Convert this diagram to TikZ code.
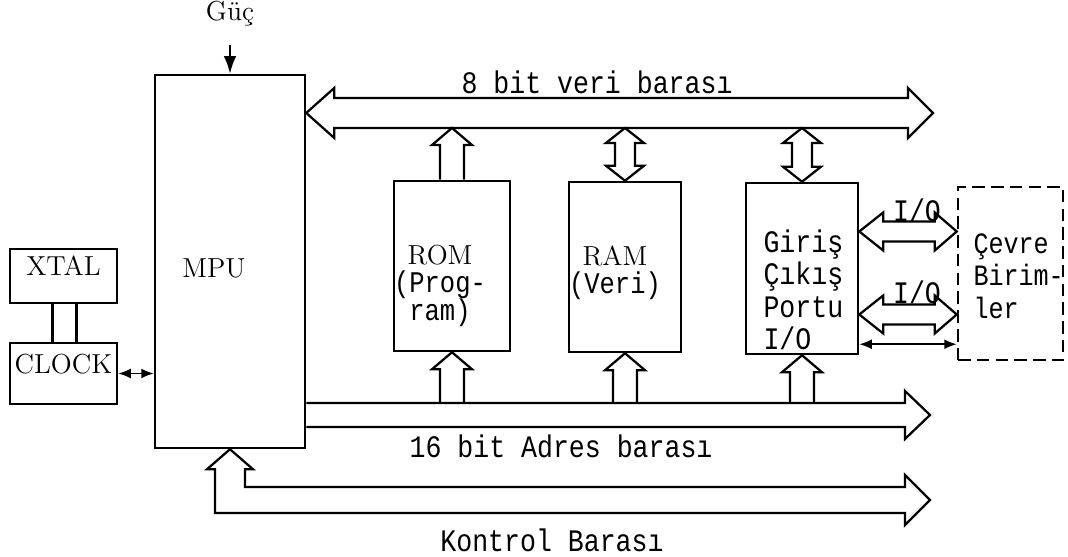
\documentclass[tikz,border=0pt]{standalone}
\usepackage{fontspec}
\newfontfamily\typew{Liberation Mono}[FakeStretch=0.85]
\usetikzlibrary{calc,fit,arrows.meta}

\begin{document}
\begin{tikzpicture}[
  x=0.4pt, y=-0.4pt,
  every node/.style={font=\fontsize{11}{12}\selectfont},
  box/.style={draw, line width=1pt, inner sep=0pt},
  tw/.style={font=\typew\fontsize{12.5}{13}\selectfont},
  tight/.style={font=\typew\fontsize{12}{11.3}\selectfont\lineskiplimit-20pt\relax},
  bus/.style={line width=0.9pt, line join=miter},
  sig/.style={line width=0.7pt, {Latex[length=5pt,width=4pt]}-{Latex[length=5pt,width=4pt]}},
  >=Latex
]
\useasboundingbox (0,0) rectangle (1068,557);

% blocks
\node[box, fit={(155,75) (305,448)}] (mpu) {};
\node[box, fit={(10,249) (117,303)}] (xtal) {XTAL};
\node[box, fit={(10,343) (117,404)}] (clock) {CLOCK};
\node[box, fit={(394,181) (510,351)}] (rom) {};
\node[box, fit={(569,182) (681,352)}] (ram) {};
\node[box, fit={(746,183) (858,354)}] (io) {};
\node[box, dash pattern=on 5pt off 2.5pt, fit={(958,187) (1063,360)}] (cevre) {};

% texts
\node (guc) at (230,14) {Güç};
\node (mputxt) at (214,268) {MPU};
\node[tight, align=center] (romtxt) at (440,286)
  {{\rmfamily\fontsize{11}{11.3}\selectfont ROM}\\(Prog-\\ram)};
\node[tight, align=center] (ramtxt) at (615,273)
  {{\rmfamily\fontsize{11}{11.3}\selectfont RAM}\\(Veri)};
\node[tw, align=left, anchor=west, inner sep=0pt] (iotxt) at (763,290) {Giriş\\Çıkış\\Portu\\I/O};
\node[tw, align=left, anchor=west, inner sep=0pt, font=\typew\fontsize{11.8}{13}\selectfont] (cevretxt)
  at (973,276) {Çevre\\Birim-\\ler};
\node[tw] (datalbl) at (597,82) {8 bit veri barası};
\node[tw] (adrlbl) at (561,446) {16 bit Adres barası};
\node[tw] (ctrllbl) at (552,540) {Kontrol Barası};
\node[tw] (iolblA) at (917,210) {I/O};
\node[tw] (iolblB) at (917,292) {I/O};

\coordinate (dtip) at (933,113);
\coordinate (atip) at (930,415);
\coordinate (ctip) at (930,500);
\coordinate (ioA) at ($(io.east)+(0,-37)$);
\coordinate (ioB) at ($(io.east)+(0,46)$);
\coordinate (ioC) at ($(io.south east)+(0,-11)$);

% power, clock
\draw[-{Latex[length=7pt,width=5pt]}, line width=0.8pt, shorten <=4pt] (guc) -- (mpu.north);
\draw[line width=1pt] ($(xtal.south)+(-11,0)$) -- ($(clock.north)+(-11,0)$);
\draw[line width=1pt] ($(xtal.south)+(13,0)$) -- ($(clock.north)+(13,0)$);
\draw[sig] (clock.east) -- (clock.east -| mpu.west);

% 8 bit data bus
\draw[bus] (mpu.east |- dtip) -- ++(28,-25) -- ++(0,10) -- ($(dtip)+(-25,-15)$) -- ++(0,-10)
  -- (dtip) -- ++(-25,25) -- ++(0,-10) -- ($(mpu.east |- dtip)+(28,15)$) -- ++(0,10) -- cycle;
\draw[bus] ($(rom.north)+(-12,0)$) -- ($(rom.north |- dtip)+(-12,32)$) -- ++(-8,0)
  -- ($(rom.north |- dtip)+(0,15)$) -- ++(20,17) -- ++(-8,0) -- ($(rom.north)+(12,0)$);
\draw[bus] (ram.north) -- ++(-19,-15) -- ++(9,0) -- ($(ram.north |- dtip)+(-10,30)$) -- ++(-9,0)
  -- ($(ram.north |- dtip)+(0,15)$) -- ++(19,15) -- ++(-9,0) -- ($(ram.north)+(10,-15)$) -- ++(9,0) -- cycle;
\draw[bus] (io.north) -- ++(-19,-15) -- ++(9,0) -- ($(io.north |- dtip)+(-10,30)$) -- ++(-9,0)
  -- ($(io.north |- dtip)+(0,15)$) -- ++(19,15) -- ++(-9,0) -- ($(io.north)+(10,-15)$) -- ++(9,0) -- cycle;

% 16 bit address bus
\draw[bus] ($(mpu.east |- atip)+(0,-12)$) -- ($(atip)+(-25,-12)$) -- ++(0,-12) -- (atip)
  -- ++(-25,24) -- ++(0,-12) -- ($(mpu.east |- atip)+(0,12)$);
\draw[bus] ($(rom.south |- atip)+(-12,-12)$) -- ($(rom.south)+(-12,17)$) -- ++(-8,0) -- (rom.south)
  -- ++(20,17) -- ++(-8,0) -- ($(rom.south |- atip)+(12,-12)$);
\draw[bus] ($(ram.south |- atip)+(-12,-12)$) -- ($(ram.south)+(-12,17)$) -- ++(-8,0) -- (ram.south)
  -- ++(20,17) -- ++(-8,0) -- ($(ram.south |- atip)+(12,-12)$);
\draw[bus] ($(io.south |- atip)+(-12,-12)$) -- ($(io.south)+(-12,17)$) -- ++(-8,0) -- (io.south)
  -- ++(20,17) -- ++(-8,0) -- ($(io.south |- atip)+(12,-12)$);

% control bus
\draw[bus] (mpu.south) -- ++(23,20) -- ++(-8,0) -- ($(mpu.south |- ctip)+(15,-13)$)
  -- ($(ctip)+(-25,-13)$) -- ++(0,-12) -- (ctip) -- ++(-25,25) -- ++(0,-12)
  -- ($(mpu.south |- ctip)+(-15,13)$) -- ($(mpu.south)+(-15,20)$) -- ++(-8,0) -- cycle;

% I/O links
\draw[bus] (ioA) -- ++(24,-19) -- ++(0,9) -- ($(cevre.west |- ioA)+(-22,-10)$) -- ++(0,-9)
  -- (cevre.west |- ioA) -- ++(-22,19) -- ++(0,-9) -- ($(ioA)+(24,10)$) -- ++(0,9) -- cycle;
\draw[bus] (ioB) -- ++(24,-19) -- ++(0,9) -- ($(cevre.west |- ioB)+(-22,-10)$) -- ++(0,-9)
  -- (cevre.west |- ioB) -- ++(-22,19) -- ++(0,-9) -- ($(ioB)+(24,10)$) -- ++(0,9) -- cycle;
\draw[sig] (ioC) -- (cevre.west |- ioC);
\end{tikzpicture}
\end{document}
